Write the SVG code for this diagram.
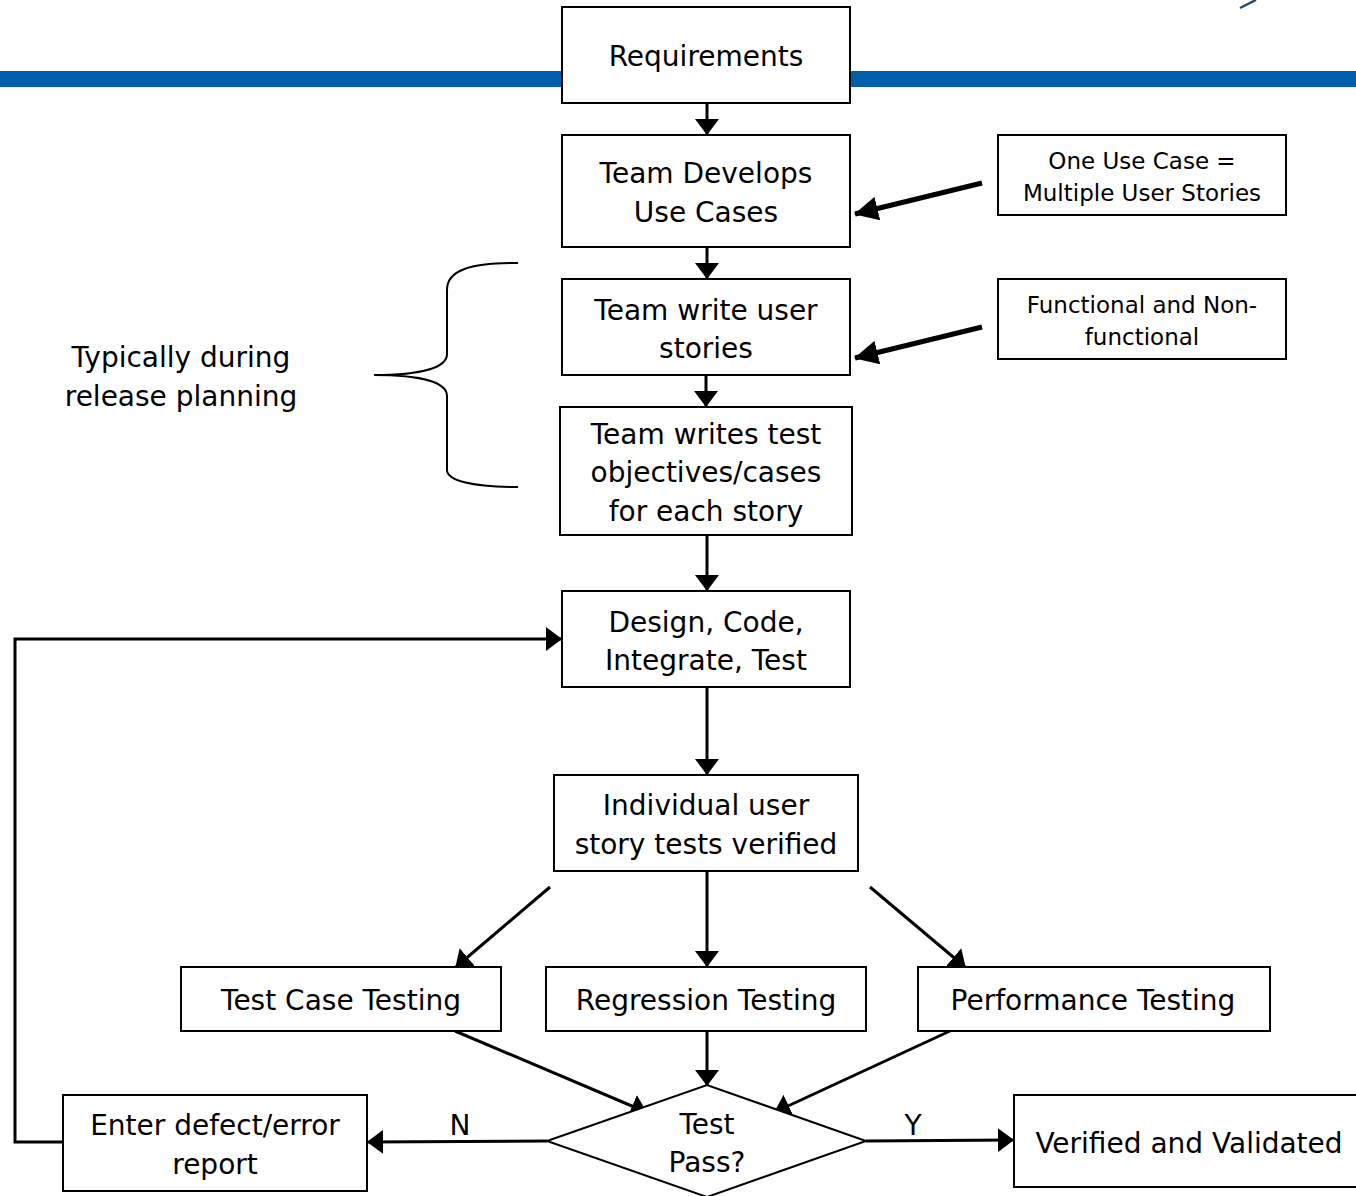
<svg xmlns="http://www.w3.org/2000/svg" width="1356" height="1196" viewBox="0 0 1356 1196">
  <style>
    .box { fill: #ffffff; stroke: #000000; stroke-width: 2; }
    .txt { font-family: "DejaVu Sans", Verdana, sans-serif; font-size: 28px; fill: #000000; text-anchor: middle; }
    .note { font-family: "DejaVu Sans", Verdana, sans-serif; font-size: 23px; fill: #000000; text-anchor: middle; }
    .wire { fill: none; stroke: #000000; stroke-width: 3; }
    .thick { fill: none; stroke: #000000; stroke-width: 5; }
  </style>
  <defs>
    <marker id="head" markerUnits="userSpaceOnUse" viewBox="0 0 16 24" markerWidth="16" markerHeight="24" refX="15" refY="12" orient="auto">
      <path d="M0,0 L16,12 L0,24 z" fill="#000000"/>
    </marker>
    <marker id="bighead" markerUnits="userSpaceOnUse" viewBox="0 0 24 24" markerWidth="24" markerHeight="24" refX="23" refY="12" orient="auto">
      <path d="M0,0 L24,12 L0,24 z" fill="#000000"/>
    </marker>
  </defs>

  <!-- header band -->
  <rect x="0" y="71" width="1356" height="16" fill="#005EAA"/>
  <path d="M1240,8 L1256,0" stroke="#2A4A6A" stroke-width="2.5" fill="none"/>

  <!-- connectors -->
  <g id="connectors">
    <line class="wire" x1="707" y1="103" x2="707" y2="134" marker-end="url(#head)"/>
    <line class="wire" x1="707" y1="247" x2="707" y2="278" marker-end="url(#head)"/>
    <line class="wire" x1="706" y1="375" x2="706" y2="406" marker-end="url(#head)"/>
    <line class="wire" x1="707" y1="535" x2="707" y2="590" marker-end="url(#head)"/>
    <line class="wire" x1="707" y1="687" x2="707" y2="774" marker-end="url(#head)"/>
    <line class="wire" x1="707" y1="871" x2="707" y2="966" marker-end="url(#head)"/>
    <line class="wire" x1="550" y1="887" x2="456" y2="967" marker-end="url(#head)"/>
    <line class="wire" x1="870" y1="887" x2="965" y2="967" marker-end="url(#head)"/>
    <line class="wire" x1="707" y1="1031" x2="707" y2="1085" marker-end="url(#head)"/>
    <line class="wire" x1="455" y1="1031" x2="646" y2="1112" marker-end="url(#head)"/>
    <line class="wire" x1="950" y1="1031" x2="775" y2="1112" marker-end="url(#head)"/>
    <line class="wire" x1="547" y1="1141" x2="368" y2="1142" marker-end="url(#head)"/>
    <line class="wire" x1="866" y1="1141" x2="1013" y2="1140" marker-end="url(#head)"/>
    <polyline class="wire" points="63,1142 15,1142 15,639 561,639" marker-end="url(#head)"/>
    <line class="thick" x1="982" y1="183" x2="855" y2="214" marker-end="url(#bighead)"/>
    <line class="thick" x1="982" y1="327" x2="855" y2="358" marker-end="url(#bighead)"/>
    <text class="txt" x="460" y="1135">N</text>
    <text class="txt" x="913" y="1135">Y</text>
  </g>

  <!-- release planning brace -->
  <g id="brace">
    <path d="M518,263 C470,263 447,270 447,290 L447,354 C447,368 420,375 374,375 C420,375 447,382 447,396 L447,470 C447,480 470,487 518,487" fill="none" stroke="#000000" stroke-width="2"/>
    <text class="txt" x="181" y="367">Typically during</text>
    <text class="txt" x="181" y="406">release planning</text>
  </g>

  <g id="requirements">
    <rect class="box" x="562" y="7" width="288" height="96"/>
    <text class="txt" x="706" y="66">Requirements</text>
  </g>
  <g id="use-cases">
    <rect class="box" x="562" y="135" width="288" height="112"/>
    <text class="txt" x="706" y="183">Team Develops</text>
    <text class="txt" x="706" y="222">Use Cases</text>
  </g>
  <g id="user-stories">
    <rect class="box" x="562" y="279" width="288" height="96"/>
    <text class="txt" x="706" y="320">Team write user</text>
    <text class="txt" x="706" y="358">stories</text>
  </g>
  <g id="test-objectives">
    <rect class="box" x="560" y="407" width="292" height="128"/>
    <text class="txt" x="706" y="444">Team writes test</text>
    <text class="txt" x="706" y="482">objectives/cases</text>
    <text class="txt" x="706" y="521">for each story</text>
  </g>
  <g id="design-code">
    <rect class="box" x="562" y="591" width="288" height="96"/>
    <text class="txt" x="706" y="632">Design, Code,</text>
    <text class="txt" x="706" y="670">Integrate, Test</text>
  </g>
  <g id="story-tests">
    <rect class="box" x="554" y="775" width="304" height="96"/>
    <text class="txt" x="706" y="815">Individual user</text>
    <text class="txt" x="706" y="854">story tests verified</text>
  </g>
  <g id="test-case-testing">
    <rect class="box" x="181" y="967" width="320" height="64"/>
    <text class="txt" x="341" y="1010">Test Case Testing</text>
  </g>
  <g id="regression-testing">
    <rect class="box" x="546" y="967" width="320" height="64"/>
    <text class="txt" x="706" y="1010">Regression Testing</text>
  </g>
  <g id="performance-testing">
    <rect class="box" x="918" y="967" width="352" height="64"/>
    <text class="txt" x="1093" y="1010">Performance Testing</text>
  </g>
  <g id="test-pass">
    <polygon class="box" points="547,1141 707,1085 866,1141 707,1197"/>
    <text class="txt" x="707" y="1134">Test</text>
    <text class="txt" x="707" y="1172">Pass?</text>
  </g>
  <g id="defect-report">
    <rect class="box" x="63" y="1095" width="304" height="96"/>
    <text class="txt" x="215" y="1135">Enter defect/error</text>
    <text class="txt" x="215" y="1174">report</text>
  </g>
  <g id="verified">
    <rect class="box" x="1014" y="1095" width="350" height="92"/>
    <text class="txt" x="1189" y="1153">Verified and Validated</text>
  </g>
  <g id="use-case-note">
    <rect class="box" x="998" y="135" width="288" height="80"/>
    <text class="note" x="1142" y="169">One Use Case =</text>
    <text class="note" x="1142" y="201">Multiple User Stories</text>
  </g>
  <g id="functional-note">
    <rect class="box" x="998" y="279" width="288" height="80"/>
    <text class="note" x="1142" y="313">Functional and Non-</text>
    <text class="note" x="1142" y="345">functional</text>
  </g>
</svg>
